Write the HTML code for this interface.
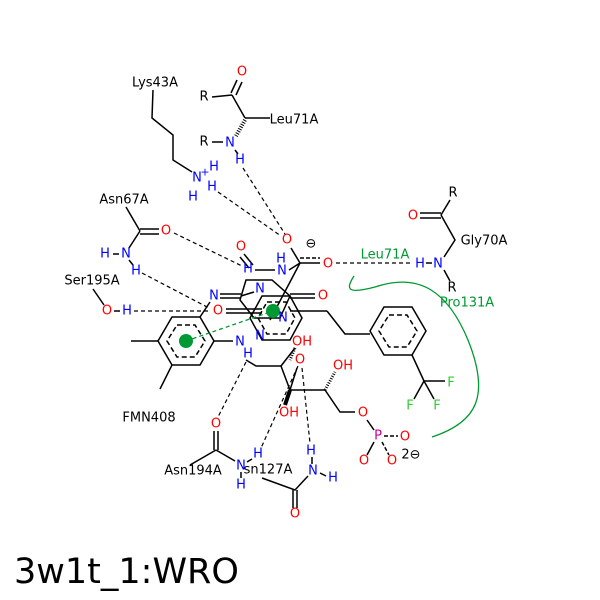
<!DOCTYPE html>
<html><head><style>
body{margin:0;background:#fff}
svg{display:block}
text{font-family:"DejaVu Sans","Liberation Sans",sans-serif;font-size:13px;text-anchor:middle;dominant-baseline:central}
.k{fill:#000}.r{fill:#f00}.b{fill:#00f}.g{fill:#093}.p{fill:#c09}.f{fill:#3c3}
</style></head><body>
<svg width="600" height="600" viewBox="0 0 600 600">
<rect width="600" height="600" fill="#fff"/>
<g stroke="#000" stroke-width="1.5" fill="none">
<polyline points="153,90 152,118 173,135 173,160 192,172"/>
<line x1="237" y1="80" x2="231" y2="93"/><line x1="242" y1="82" x2="236" y2="95"/>
<line x1="212" y1="97" x2="232" y2="95"/><line x1="232" y1="95" x2="245" y2="118"/>
<line x1="245" y1="118" x2="270" y2="118"/>
<line x1="212" y1="142" x2="223" y2="142"/><line x1="235" y1="150" x2="238" y2="154"/>
<line x1="245" y1="120" x2="236" y2="136" stroke-dasharray="1,1.5" stroke-width="4"/>
<line x1="126" y1="207" x2="140" y2="231"/>
<line x1="140" y1="229" x2="159" y2="229"/><line x1="140" y1="234" x2="159" y2="234"/>
<line x1="140" y1="231" x2="129" y2="248"/><line x1="113" y1="254" x2="119" y2="254"/>
<line x1="129" y1="260" x2="133" y2="265"/>
<line x1="93" y1="289" x2="104" y2="305"/><line x1="114" y1="311" x2="120" y2="311"/>
<polygon points="172,317 200,317 214,341 200,365 172,365 158,341"/>
<polygon points="177,325 195,325 205,341 195,357 177,357 167,341" stroke-dasharray="5,3"/>
<line x1="158" y1="341" x2="131" y2="341"/><line x1="172" y1="365" x2="160" y2="389"/>
<line x1="214" y1="341" x2="233" y2="341"/>
<line x1="200" y1="317" x2="210" y2="302"/>
<line x1="220" y1="294" x2="241" y2="294"/><line x1="220" y1="298" x2="241" y2="298"/>
<line x1="241" y1="296" x2="254" y2="292"/>
<line x1="226" y1="309" x2="262" y2="309"/><line x1="226" y1="313" x2="262" y2="313"/>
<line x1="244" y1="254" x2="253" y2="265"/><line x1="240" y1="257" x2="249" y2="268"/>
<polygon points="246,280 272,280 290,296 280,318 254,318 240,300" />
<polygon points="262,296 290,296 302,318 290,340 262,340 250,318"/>
<polygon points="267,302 286,302 295,318 286,334 267,334 258,318" stroke-dasharray="5,3"/>
<line x1="255" y1="270" x2="275" y2="270"/>
<line x1="289" y1="270" x2="300" y2="263"/>
<line x1="300" y1="263" x2="320" y2="263"/><line x1="300" y1="258" x2="320" y2="258" stroke-dasharray="4,2"/>
<line x1="300" y1="263" x2="291" y2="248"/>
<line x1="300" y1="263" x2="270" y2="320"/>
<line x1="290" y1="294" x2="315" y2="294"/><line x1="290" y1="298" x2="315" y2="298"/>
<line x1="290" y1="311" x2="327" y2="311"/>
<polyline points="327,311 345,334 370,334"/>
<polyline points="246,360 256,366 281,366 290,390 300,390 325,390 340,412 355,412"/>
<line x1="281" y1="366" x2="295" y2="348"/>
<line x1="290" y1="390" x2="297" y2="368"/>
<line x1="325" y1="390" x2="335" y2="372" stroke-dasharray="1,1.5" stroke-width="3"/>
<line x1="290" y1="390" x2="285" y2="405" stroke-width="4"/>
<line x1="295" y1="348" x2="290" y2="360" stroke-dasharray="1,1.5" stroke-width="3"/>
<polygon points="384,307 412,307 426,331 412,355 384,355 370,331"/>
<polygon points="389,315 407,315 417,331 407,347 389,347 379,331" stroke-dasharray="5,3"/>
<line x1="412" y1="355" x2="424" y2="381"/>
<line x1="424" y1="381" x2="445" y2="381"/><line x1="424" y1="381" x2="414" y2="399"/><line x1="424" y1="381" x2="434" y2="399"/>
<line x1="367" y1="420" x2="374" y2="430"/>
<line x1="384" y1="436" x2="398" y2="436" stroke-dasharray="4,2"/>
<line x1="374" y1="442" x2="367" y2="455"/><line x1="382" y1="442" x2="389" y2="455" stroke-dasharray="4,2"/>
<line x1="420" y1="213" x2="441" y2="213"/><line x1="420" y1="218" x2="441" y2="218"/>
<line x1="441" y1="215" x2="450" y2="200"/><polyline points="441,215 455,240 444,257"/>
<line x1="444" y1="270" x2="450" y2="281"/><line x1="426" y1="263" x2="432" y2="263"/>
<line x1="214" y1="431" x2="214" y2="450"/><line x1="218" y1="431" x2="218" y2="450"/>
<line x1="216" y1="450" x2="190" y2="465"/><line x1="216" y1="450" x2="235" y2="461"/>
<line x1="247" y1="462" x2="252" y2="459"/><line x1="241" y1="472" x2="241" y2="478"/>
<polyline points="262,478 295,490 308,476"/>
<line x1="293" y1="490" x2="293" y2="508"/><line x1="297" y1="490" x2="297" y2="508"/>
<line x1="312" y1="457" x2="312" y2="464"/><line x1="320" y1="473" x2="326" y2="476"/>
</g>
<g stroke="#000" stroke-width="1.2" stroke-dasharray="4,3" fill="none">
<line x1="243" y1="168" x2="285" y2="234"/>
<line x1="218" y1="192" x2="281" y2="236"/>
<line x1="174" y1="233" x2="242" y2="266"/>
<line x1="142" y1="273" x2="209" y2="308"/>
<line x1="134" y1="311" x2="209" y2="311"/>
<line x1="336" y1="263" x2="413" y2="263"/>
<line x1="246" y1="362" x2="218" y2="417"/>
<line x1="298" y1="366" x2="261" y2="448"/>
<line x1="302" y1="368" x2="310" y2="443"/>
</g>
<line x1="186" y1="341" x2="273" y2="311" stroke="#093" stroke-width="1.3" stroke-dasharray="4,3"/>
<circle cx="186" cy="341" r="7" fill="#093"/><circle cx="273" cy="311" r="7" fill="#093"/>
<path d="M354,276 C345,290 348,294 375,287 C420,272 448,292 468,340 C490,395 478,422 432,437" stroke="#093" stroke-width="1.3" fill="none"/>
<text x="155" y="83" class="k">Lys43A</text>
<text x="242" y="72" class="r">O</text><text x="204" y="97" class="k">R</text>
<text x="294" y="120" class="k">Leu71A</text>
<text x="204" y="142" class="k">R</text><text x="230" y="143" class="b">N</text><text x="240" y="160" class="b">H</text>
<text x="197" y="178" class="b">N</text><text x="205" y="172" class="b" style="font-size:11px">+</text>
<text x="214" y="167" class="b">H</text><text x="212" y="187" class="b">H</text><text x="193" y="197" class="b">H</text>
<text x="124" y="200" class="k">Asn67A</text>
<text x="166" y="231" class="r">O</text><text x="126" y="254" class="b">N</text><text x="105" y="254" class="b">H</text><text x="136" y="271" class="b">H</text>
<text x="92" y="281" class="k">Ser195A</text>
<text x="107" y="311" class="r">O</text><text x="127" y="311" class="b">H</text>
<text x="241" y="247" class="r">O</text><text x="248" y="269" class="b">H</text><text x="282" y="271" class="b">N</text><text x="281" y="259" class="b">H</text>
<text x="287" y="240" class="r">O</text><text x="311" y="244" class="k">⊖</text><text x="328" y="264" class="r">O</text>
<text x="385" y="255" class="g">Leu71A</text>
<text x="420" y="264" class="b">H</text><text x="438" y="264" class="b">N</text>
<text x="453" y="193" class="k">R</text><text x="413" y="216" class="r">O</text><text x="484" y="241" class="k">Gly70A</text><text x="452" y="288" class="k">R</text>
<text x="467" y="303" class="g">Pro131A</text>
<text x="214" y="296" class="b">N</text><text x="260" y="289" class="b">N</text><text x="218" y="311" class="r">O</text>
<text x="323" y="296" class="r">O</text><text x="283" y="318" class="b">N</text>
<text x="260" y="336" class="b">N</text><text x="240" y="342" class="b">N</text><text x="248" y="354" class="b">H</text>
<text x="302" y="342" class="r">OH</text><text x="300" y="360" class="r">O</text>
<text x="343" y="366" class="r">OH</text><text x="289" y="413" class="r">OH</text>
<text x="363" y="413" class="r">O</text><text x="378" y="436" class="p">P</text>
<text x="405" y="437" class="r">O</text><text x="364" y="461" class="r">O</text><text x="392" y="461" class="r">O</text>
<text x="411" y="455" class="k">2⊖</text>
<text x="451" y="383" class="f">F</text><text x="410" y="406" class="f">F</text><text x="437" y="406" class="f">F</text>
<text x="149" y="418" class="k">FMN408</text>
<text x="216" y="424" class="r">O</text><text x="193" y="471" class="k">Asn194A</text>
<text x="241" y="466" class="b">N</text><text x="258" y="454" class="b">H</text><text x="241" y="485" class="b">H</text>
<text x="268" y="470" class="k">sn127A</text>
<text x="295" y="514" class="r">O</text><text x="313" y="471" class="b">N</text><text x="311" y="451" class="b">H</text><text x="333" y="478" class="b">H</text>
<text x="14" y="572" style="font-size:35px;text-anchor:start">3w1t_1:WRO</text>
</svg>
</body></html>
